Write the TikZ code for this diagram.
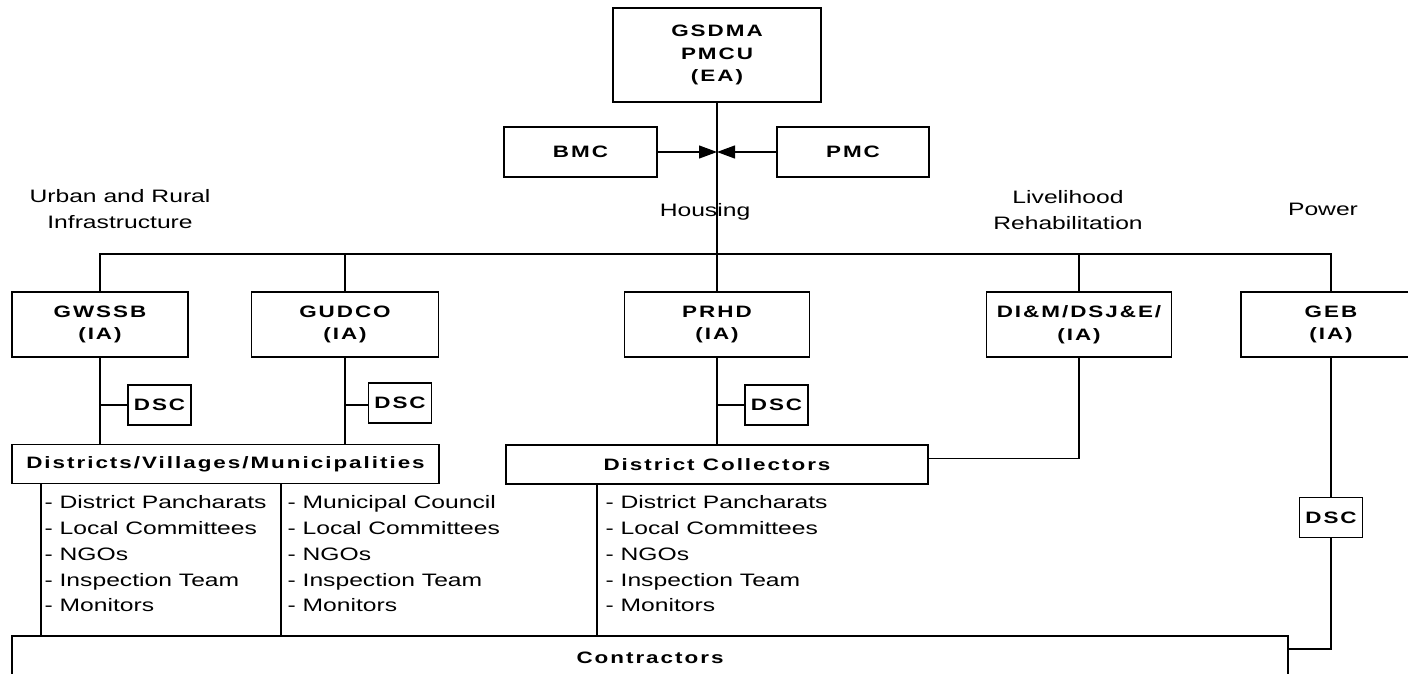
\documentclass[tikz,border=0pt]{standalone}
\usepackage{fontspec}
\setmainfont{Liberation Sans}[FakeStretch=1.37,BoldFeatures={FakeStretch=1.36,LetterSpace=12}]
\usetikzlibrary{positioning,calc,arrows.meta}

\newcommand{\orgbold}{\fontsize{16.5}{22.5}\selectfont\bfseries}
\newcommand{\orgtext}{\fontsize{18}{25.8}\selectfont}

\begin{document}
\begin{tikzpicture}[
x=1pt, y=-1pt,
line width=1.2pt,
agency/.style={rectangle, draw, font=\orgbold, align=center, minimum height=65pt},
dsc/.style={rectangle, draw, font=\orgbold, minimum width=63pt, minimum height=40pt, inner sep=0pt},
level/.style={rectangle, draw, font=\orgbold, minimum height=39pt},
members/.style={anchor=north west, align=left, inner sep=0pt, font=\orgtext},
heading/.style={align=center, font=\orgtext},
tip/.style={-{Triangle[length=18pt,width=13pt]}}
]
	\useasboundingbox (0,0) rectangle (1408,673);
	\clip (0,0) rectangle (1408,673);

	\node at (717,55) [agency, minimum width=208pt, minimum height=94pt] (gsdma) {GSDMA\\PMCU\\(EA)};
	\node at (580.5,152) [agency, minimum width=153pt, minimum height=50pt] (bmc) {BMC};
	\node at (853,152) [agency, minimum width=152pt, minimum height=50pt] (pmc) {PMC};

	\draw [tip] (bmc.east) -- (bmc.east -| gsdma.south);
	\draw [tip] (pmc.west) -- (pmc.west -| gsdma.south);

	\node at (120,209) [heading] (urban) {Urban and Rural\\Infrastructure};
	\node at (705,212) [heading] (housing) {Housing};
	\node at (1068,210) [heading] (liveli) {Livelihood\\Rehabilitation};
	\node at (1323,209) [heading] (power) {Power};

	\node at (100,324.5) [agency, minimum width=176pt] (gwssb) {GWSSB\\(IA)};
	\node at (345,324.5) [agency, minimum width=187pt] (gudco) {GUDCO\\(IA)};
	\node at (717,324.5) [agency, minimum width=185pt] (prhd) {PRHD\\(IA)};
	\node at (1079,324.5) [agency, minimum width=185pt] (dim) {DI\&M/DSJ\&E/\\(IA)};
	\node at (1331,324.5) [agency, minimum width=180pt] (geb) {GEB\\(IA)};

	\coordinate (bus) at (717,254);
	\draw (gsdma.south) -- (prhd.north);
	\draw (gwssb.north) -- (gwssb.north |- bus) -- (geb.north |- bus) -- (geb.north);
	\draw (gudco.north) -- (gudco.north |- bus);
	\draw (dim.north) -- (dim.north |- bus);

	\node at (225.5,464) [level, minimum width=427pt] (dvm) {Districts/Villages/Municipalities};
	\node at (717,464.5) [level, minimum width=422pt] (dcol) {District Collectors};

	\node at (159.5,405) [dsc] (dscw) {DSC};
	\node at (400,403) [dsc] (dscu) {DSC};
	\node at (776.5,405) [dsc] (dsch) {DSC};
	\node at (1331,517.5) [dsc] (dscp) {DSC};

	\draw (gwssb.south) -- (gwssb.south |- dvm.north);
	\draw (gudco.south) -- (gudco.south |- dvm.north);
	\draw (prhd.south) -- (dcol.north);
	\draw (dscw.west) -- (dscw.west -| gwssb.south);
	\draw (dscu.west |- dscw.west) -- (dscw.west -| gudco.south);
	\draw (dsch.west) -- (dsch.west -| prhd.south);
	\draw (dim.south) |- ([yshift=6pt]dcol.east);

	\node at (650,658) [agency, minimum width=1276pt, minimum height=44pt] (contr) {Contractors};

	\draw (geb.south) -- (dscp.north);
	\draw (dscp.south) |- ([yshift=9pt]contr.east);

	\node at (44,495) [members] (listw) {- District Pancharats\\- Local Committees\\- NGOs\\- Inspection Team\\- Monitors};
	\node at (287,495) [members] (listu) {- Municipal Council\\- Local Committees\\- NGOs\\- Inspection Team\\- Monitors};
	\node at (605,495) [members] (listh) {- District Pancharats\\- Local Committees\\- NGOs\\- Inspection Team\\- Monitors};

	\coordinate (colw) at (41,0);
	\coordinate (colu) at (281,0);
	\coordinate (colh) at (597,0);
	\draw (colw |- dvm.south) -- (colw |- contr.north);
	\draw (colu |- dvm.south) -- (colu |- contr.north);
	\draw (colh |- dcol.south) -- (colh |- contr.north);

\end{tikzpicture}
\end{document}
